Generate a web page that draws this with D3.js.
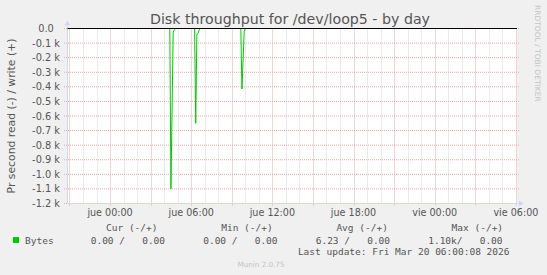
<!DOCTYPE html>
<html>
<head>
<meta charset="utf-8">
<script src="https://cdn.jsdelivr.net/npm/d3@7"></script>
<style>
  body { margin: 0; background: #f0f0f0; }
  svg { display: block; }
  text { font-family: "DejaVu Sans", sans-serif; fill: #555; }
  .mono { font-family: "DejaVu Sans Mono", monospace; white-space: pre; }
</style>
</head>
<body>
<svg id="chart"></svg>
<script>
/* data */
var title = "Disk throughput for /dev/loop5 - by day";
var yLegend = "Pr second read (-) / write (+)";
var timeStart = new Date(2026, 2, 18, 20, 49);
var timeEnd = new Date(2026, 2, 20, 6, 5);

var yTicks = [0, -100, -200, -300, -400, -500, -600, -700, -800, -900, -1000, -1100, -1200];
var yTickLabels = ["0.0  ", "-0.1 k", "-0.2 k", "-0.3 k", "-0.4 k", "-0.5 k", "-0.6 k", "-0.7 k", "-0.8 k", "-0.9 k", "-1.0 k", "-1.1 k", "-1.2 k"];

var xLabelTimes = [new Date(2026, 2, 19, 0), new Date(2026, 2, 19, 6), new Date(2026, 2, 19, 12),
                   new Date(2026, 2, 19, 18), new Date(2026, 2, 20, 0), new Date(2026, 2, 20, 6)];
var xLabels = ["jue 00:00", "jue 06:00", "jue 12:00", "jue 18:00", "vie 00:00", "vie 06:00"];

// read samples (negative side), zero outside the three bursts
var readTimes = [
  new Date(2026, 2, 18, 20, 49),
  new Date(2026, 2, 19, 4, 25), new Date(2026, 2, 19, 4, 30), new Date(2026, 2, 19, 4, 40),
  new Date(2026, 2, 19, 4, 45), new Date(2026, 2, 19, 4, 50),
  new Date(2026, 2, 19, 6, 15), new Date(2026, 2, 19, 6, 20), new Date(2026, 2, 19, 6, 25),
  new Date(2026, 2, 19, 6, 30), new Date(2026, 2, 19, 6, 35), new Date(2026, 2, 19, 6, 40),
  new Date(2026, 2, 19, 9, 40), new Date(2026, 2, 19, 9, 45), new Date(2026, 2, 19, 9, 55),
  new Date(2026, 2, 19, 10, 0),
  new Date(2026, 2, 20, 6, 0)
];
var readValues = [0, 0, -1100, -25, -10, 0, 0, -650, -40, -35, -10, 0, 0, -415, -20, 0, 0];

var writeTimes = [new Date(2026, 2, 18, 20, 49), new Date(2026, 2, 20, 6, 0)];
var writeValues = [0, 0];

var seriesName = "Bytes";
var legendHeaders = ["Cur (-/+)", "Min (-/+)", "Avg (-/+)", "Max (-/+)"];
var legendValues = ["0.00 /   0.00", "0.00 /   0.00", "6.23 /   0.00", "1.10k/   0.00"];
var lastUpdate = "Last update: Fri Mar 20 06:00:08 2026";
var watermark = "RRDTOOL / TOBI OETIKER";
var footer = "Munin 2.0.75";

/* settings */
var width = 547, height = 275,
    plotLeft = 67, plotRight = 517, plotTop = 28.5, plotBottom = 203.5,
    green = "#00cc00",
    axisColor = "#cfd6f8",
    majorGrid = "#e8a8a8",
    minorGrid = "#d6d6d6";

var svg = d3.select("#chart").attr("width", width).attr("height", height);

var xScale = d3.scaleTime().domain([timeStart, timeEnd]).range([plotLeft, plotRight]);
var yScale = d3.scaleLinear().domain([0, -1200]).range([plotTop, plotBottom]);

function px(v) { return Math.round(v) + 0.5; }

/* plot canvas */
svg.append("rect")
  .attr("x", plotLeft).attr("y", plotTop - 0.5)
  .attr("width", plotRight - plotLeft).attr("height", plotBottom - plotTop)
  .attr("fill", "#fff");

/* vertical grid: every hour grey, every 3 hours red */
var hours = d3.timeHour.range(timeStart, timeEnd);
svg.append("g").selectAll("line")
  .data(hours)
  .join("line")
    .attr("x1", function(d) { return px(xScale(d)); })
    .attr("x2", function(d) { return px(xScale(d)); })
    .attr("y1", plotTop)
    .attr("y2", function(d) { return d.getHours() % 3 == 0 ? plotBottom + 3 : plotBottom; })
    .attr("stroke", function(d) { return d.getHours() % 3 == 0 ? majorGrid : minorGrid; })
    .attr("stroke-dasharray", "1,1");

/* horizontal grid */
svg.append("g").selectAll("line")
  .data(yTicks)
  .join("line")
    .attr("x1", plotLeft - 3).attr("x2", plotRight + 2)
    .attr("y1", function(d) { return yScale(d); })
    .attr("y2", function(d) { return yScale(d); })
    .attr("stroke", majorGrid)
    .attr("stroke-dasharray", "1,1");

/* axes with arrows */
svg.append("line")
  .attr("x1", plotLeft).attr("x2", plotRight + 3)
  .attr("y1", plotBottom).attr("y2", plotBottom)
  .attr("stroke", axisColor);
svg.append("path")
  .attr("d", "M" + (plotRight + 2) + "," + (plotBottom - 3) + "L" + (plotRight + 7) + "," + plotBottom + "L" + (plotRight + 2) + "," + (plotBottom + 3) + "Z")
  .attr("fill", axisColor);
svg.append("line")
  .attr("x1", plotLeft + 0.5).attr("x2", plotLeft + 0.5)
  .attr("y1", plotBottom).attr("y2", plotTop - 4)
  .attr("stroke", axisColor);
svg.append("path")
  .attr("d", "M" + (plotLeft - 2.5) + "," + (plotTop - 3) + "L" + (plotLeft + 0.5) + "," + (plotTop - 8) + "L" + (plotLeft + 3.5) + "," + (plotTop - 3) + "Z")
  .attr("fill", axisColor);

/* y tick labels */
svg.append("g").selectAll("text")
  .data(yTicks)
  .join("text")
    .attr("x", 60)
    .attr("y", function(d) { return yScale(d) + 3.5; })
    .attr("text-anchor", "end")
    .style("white-space", "pre")
    .style("font-size", "9.8px")
    .text(function(d, i) { return yTickLabels[i]; });

/* x tick labels */
svg.append("g").selectAll("text")
  .data(xLabelTimes)
  .join("text")
    .attr("x", function(d) { return xScale(d); })
    .attr("y", 216)
    .attr("text-anchor", "middle")
    .style("font-size", "9.6px")
    .text(function(d, i) { return xLabels[i]; });

/* read line and write line */
var line = d3.line()
  .x(function(d) { return xScale(d[0]); })
  .y(function(d) { return yScale(d[1]); });

svg.append("path")
  .datum(d3.zip(readTimes, readValues))
  .attr("d", line)
  .attr("fill", "none")
  .attr("stroke", green)
  .attr("stroke-width", 1);

svg.append("path")
  .datum(d3.zip(writeTimes, writeValues))
  .attr("d", line)
  .attr("fill", "none")
  .attr("stroke", green)
  .attr("stroke-width", 1);

/* zero rule */
svg.append("line")
  .attr("x1", plotLeft + 1).attr("x2", plotRight)
  .attr("y1", yScale(0)).attr("y2", yScale(0))
  .attr("stroke", "#000");

/* titles */
svg.append("text")
  .attr("x", 290).attr("y", 23.5)
  .attr("text-anchor", "middle")
  .style("font-size", "14.2px")
  .text(title);

svg.append("text")
  .attr("transform", "translate(15," + ((plotTop + plotBottom) / 2) + ") rotate(-90)")
  .attr("text-anchor", "middle")
  .style("font-size", "10.8px")
  .text(yLegend);

svg.append("text")
  .attr("transform", "translate(535,5) rotate(90)")
  .style("font-size", "7.5px")
  .style("fill", "#c4c4c4")
  .text(watermark);

/* legend */
svg.append("rect")
  .attr("x", 13).attr("y", 237)
  .attr("width", 6).attr("height", 6)
  .attr("fill", green);

svg.append("text").attr("class", "mono")
  .attr("x", 25).attr("y", 243.5)
  .style("font-size", "9.5px")
  .text(seriesName);

svg.append("g").selectAll("text")
  .data(legendHeaders)
  .join("text")
    .attr("class", "mono")
    .attr("x", function(d, i) { return 106 + i * 115.2; })
    .attr("y", 231)
    .style("font-size", "9.5px")
    .text(function(d) { return d; });

svg.append("g").selectAll("text")
  .data(legendValues)
  .join("text")
    .attr("class", "mono")
    .attr("x", function(d, i) { return 90.7 + i * 112.5; })
    .attr("y", 243.5)
    .style("font-size", "9.5px")
    .text(function(d) { return d; });

svg.append("text").attr("class", "mono")
  .attr("x", 509.5).attr("y", 254.5)
  .attr("text-anchor", "end")
  .style("font-size", "9.5px")
  .text(lastUpdate);

svg.append("text")
  .attr("x", 261).attr("y", 267)
  .attr("text-anchor", "middle")
  .style("font-size", "7.2px")
  .style("fill", "#c4c4c4")
  .text(footer);
</script>
</body>
</html>
